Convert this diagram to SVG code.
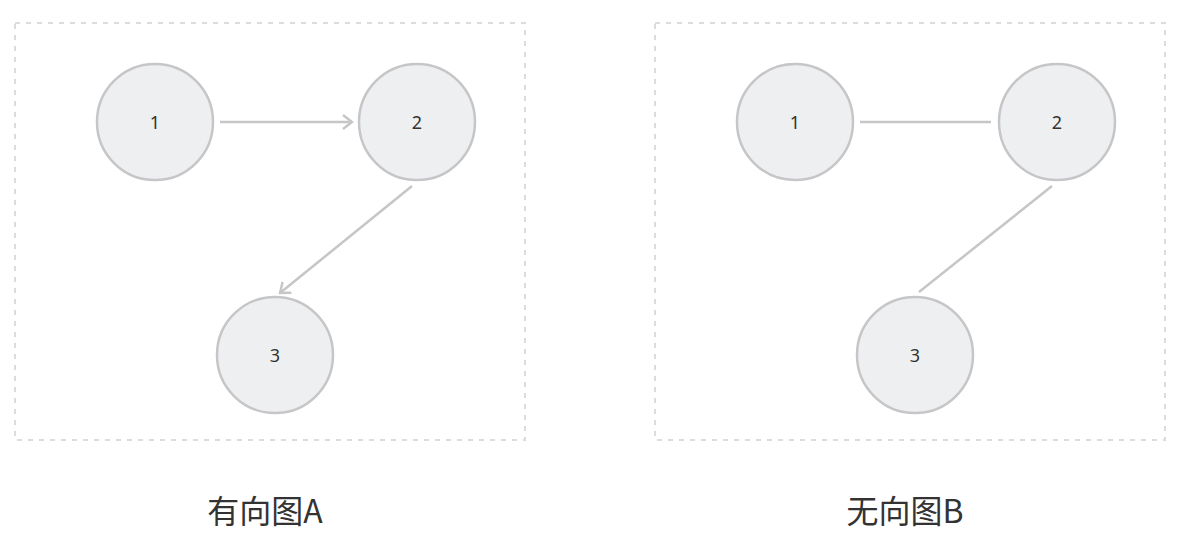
<svg xmlns="http://www.w3.org/2000/svg" width="1190" height="546" viewBox="0 0 1190 546">
<style>
.frame{fill:none;stroke:#dcdcdc;stroke-width:2;stroke-dasharray:5 6}
.node circle{fill:#eeeff1;stroke:#c6c6c8;stroke-width:2.5}
.node text{font-family:"Noto Sans","Liberation Sans",sans-serif;font-size:18px;fill:#333;text-anchor:middle;dominant-baseline:central}
.edge{stroke:#c6c6c8;stroke-width:2.5;fill:none}
.cap{font-family:"Noto Sans CJK SC","Noto Sans",sans-serif;font-size:32px;fill:#333;text-anchor:middle}
</style>
<defs>
<marker id="arr" viewBox="0 0 16 16" refX="14" refY="8" markerWidth="16" markerHeight="16" markerUnits="userSpaceOnUse" orient="auto">
<path d="M5,1 L14,8 L5,15" fill="none" stroke="#c6c6c8" stroke-width="2.4"/>
</marker>
</defs>
<rect class="frame" x="15" y="23" width="510" height="417"/>
<rect class="frame" x="655" y="23" width="510" height="417"/>
<g id="connectors">
<line class="edge" x1="220" y1="122" x2="352" y2="122" marker-end="url(#arr)"/>
<line class="edge" x1="412" y1="186" x2="280" y2="293" marker-end="url(#arr)"/>
<line class="edge" x1="860" y1="122" x2="991" y2="122"/>
<line class="edge" x1="1052" y1="186" x2="919" y2="292"/>
</g>
<g id="a1" class="node"><circle cx="155" cy="122" r="58"/><text x="155" y="122">1</text></g>
<g id="a2" class="node"><circle cx="417" cy="122" r="58"/><text x="417" y="122">2</text></g>
<g id="a3" class="node"><circle cx="275" cy="355" r="58"/><text x="275" y="355">3</text></g>
<g id="b1" class="node"><circle cx="795" cy="122" r="58"/><text x="795" y="122">1</text></g>
<g id="b2" class="node"><circle cx="1057" cy="122" r="58"/><text x="1057" y="122">2</text></g>
<g id="b3" class="node"><circle cx="915" cy="355" r="58"/><text x="915" y="355">3</text></g>
<text class="cap" x="265" y="523">有向图A</text>
<text class="cap" x="905" y="523">无向图B</text>
</svg>
